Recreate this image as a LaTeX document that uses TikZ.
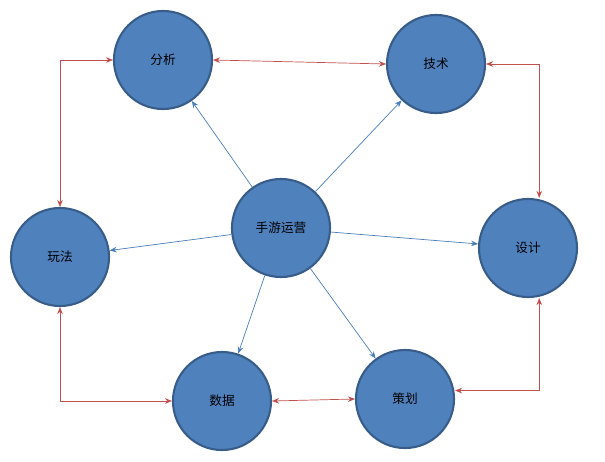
\documentclass[tikz,border=0pt]{standalone}
\usepackage{fontspec}
\newfontfamily\cjk{Noto Sans CJK SC}
\usetikzlibrary{arrows.meta}
\definecolor{fillb}{HTML}{4F81BD}
\definecolor{edgeb}{HTML}{385D8A}
\definecolor{lineb}{HTML}{4A7EBB}
\definecolor{liner}{HTML}{C0504D}
\begin{document}
\begin{tikzpicture}[x=0.025cm,y=-0.025cm,
  ball/.style={circle,draw=edgeb,line width=1.5pt,fill=fillb,minimum size=2.45cm,inner sep=0pt,font=\cjk\fontsize{9}{11}\selectfont},
  blu/.style={draw=lineb,line width=0.5pt,-{Stealth[length=5pt,width=4pt]}},
  red/.style={draw=liner,line width=0.5pt,{Stealth[length=5pt,width=4pt]}-{Stealth[length=5pt,width=4pt]}}]
\useasboundingbox (0,0) rectangle (605,461);
\node[ball] (fx) at (163,60) {分析};
\node[ball] (js) at (436,64) {技术};
\node[ball] (hub) at (281,228) {手游运营};
\node[ball] (wf) at (60,257) {玩法};
\node[ball] (sj) at (528,248) {设计};
\node[ball] (shu) at (222,401) {数据};
\node[ball] (ch) at (405,399) {策划};
\draw[blu] (hub) -- (fx);
\draw[blu] (hub) -- (js);
\draw[blu] (hub) -- (wf);
\draw[blu] (hub) -- (sj);
\draw[blu] (hub) -- (shu);
\draw[blu] (hub) -- (ch);
\draw[red] (fx.west) -| (wf.north);
\draw[red] (fx.east) -- (js.west);
\draw[red] (js.east) -| ([xshift=8]sj.north);
\draw[red] (wf.south) |- (shu.west);
\draw[red] (shu.east) -- (ch.west);
\draw[red] ([yshift=6]ch.east) -| ([xshift=8]sj.south);
\end{tikzpicture}
\end{document}
